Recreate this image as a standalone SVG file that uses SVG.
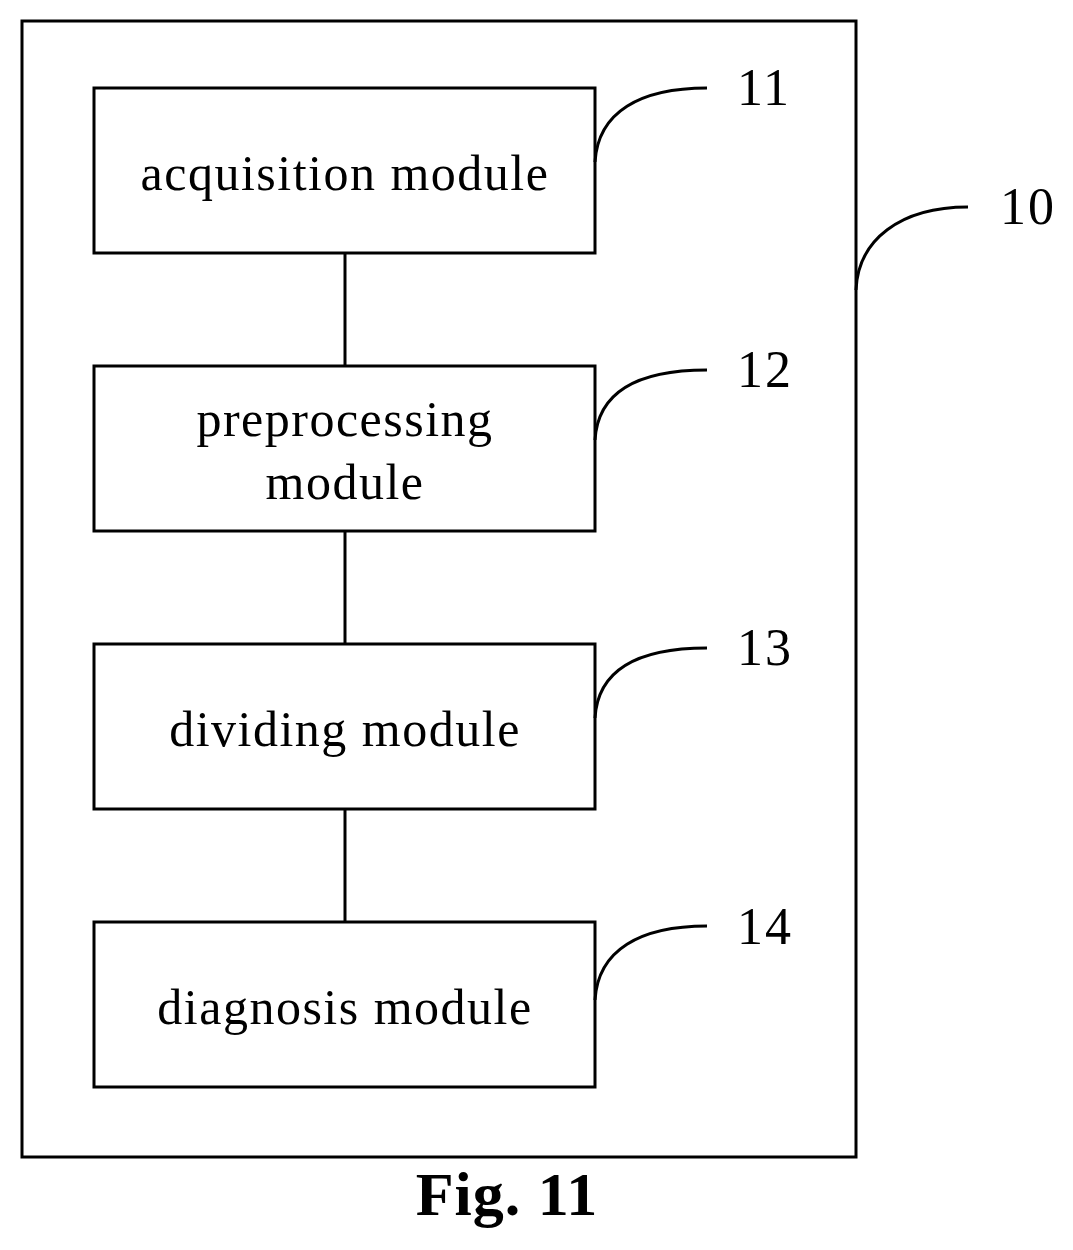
<svg xmlns="http://www.w3.org/2000/svg" width="1073" height="1250" viewBox="0 0 1073 1250">
<style>
.b{fill:#fff;stroke:#000;stroke-width:3}
.t{font-family:"Liberation Serif",serif;font-size:50px;letter-spacing:1.5px;text-anchor:middle}
.n{font-family:"Liberation Serif",serif;font-size:52px;letter-spacing:2px}
.l{fill:none;stroke:#000;stroke-width:3}
</style>
<rect width="1073" height="1250" fill="#fff"/>
<g id="n10"><rect class="b" x="22" y="21" width="834" height="1136"/>
<path class="l" d="M856,290 C858,240 900,207 968,207"/><text class="n" x="1000" y="224">10</text></g>
<g id="connectors">
<line class="l" x1="345" y1="253" x2="345" y2="366"/>
<line class="l" x1="345" y1="531" x2="345" y2="644"/>
<line class="l" x1="345" y1="809" x2="345" y2="922"/>
</g>
<g id="n11"><rect class="b" x="94" y="88" width="501" height="165"/><text class="t" x="345" y="190">acquisition module</text>
<path class="l" d="M595,162 C598,112 640,88 707,88"/><text class="n" x="737" y="105">11</text></g>
<g id="n12"><rect class="b" x="94" y="366" width="501" height="165"/><text class="t" x="345" y="436">preprocessing</text><text class="t" x="345" y="499">module</text>
<path class="l" d="M595,440 C598,390 640,370 707,370"/><text class="n" x="737" y="387">12</text></g>
<g id="n13"><rect class="b" x="94" y="644" width="501" height="165"/><text class="t" x="345" y="746">dividing module</text>
<path class="l" d="M595,718 C598,668 640,648 707,648"/><text class="n" x="737" y="665">13</text></g>
<g id="n14"><rect class="b" x="94" y="922" width="501" height="165"/><text class="t" x="345" y="1024">diagnosis module</text>
<path class="l" d="M595,1000 C598,950 640,926 707,926"/><text class="n" x="737" y="944">14</text></g>
<text x="507" y="1215" font-family="Liberation Serif,serif" font-size="62" font-weight="bold" letter-spacing="1" text-anchor="middle">Fig. 11</text>
</svg>
